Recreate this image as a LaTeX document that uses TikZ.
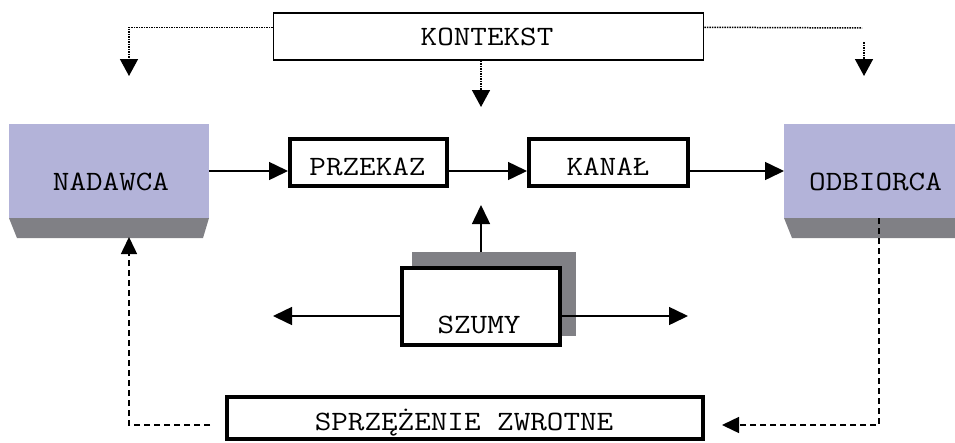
\documentclass[tikz,border=0pt]{standalone}
\usepackage{fontspec}
\newfontfamily\courlike[FakeStretch=1.15]{Latin Modern Mono}
\usetikzlibrary{arrows.meta}
\definecolor{lav}{RGB}{179,179,217}
\definecolor{shad}{RGB}{128,128,133}
\begin{document}
\begin{tikzpicture}[x=1pt,y=-1pt,
  txt/.style={font=\courlike\fontsize{28}{30}\selectfont, anchor=base, inner sep=0pt},
  thinbox/.style={draw, line width=1.5pt, fill=white, inner sep=0pt},
  thickbox/.style={draw, line width=4pt, fill=white, inner sep=0pt},
  party/.style={fill=lav, inner sep=0pt, outer sep=0pt},
  conn/.style={line width=1.5pt, -{Triangle[length=19pt,width=18pt]}},
  dotline/.style={line width=1.5pt, dash pattern=on 1.5pt off 1pt},
  dotconn/.style={dotline, -{Triangle[length=17pt,width=18pt]}},
  fbconn/.style={line width=1.5pt, dash pattern=on 6pt off 4pt, -{Triangle[length=17pt,width=16pt]}}
]
\useasboundingbox (0,0) rectangle (955,442);
\fill[white] (0,0) rectangle (955,442);

% parties
\node[party, minimum width=200pt, minimum height=94pt] (nadawca) at (109,171) {};
\node[party, minimum width=171pt, minimum height=94pt] (odbiorca) at (869.5,171) {};
\fill[shad] (nadawca.south west) -- (nadawca.south east) -- ([xshift=-6pt,yshift=-20pt]nadawca.south east) -- ([xshift=8pt,yshift=-20pt]nadawca.south west) -- cycle;
\fill[shad] (odbiorca.south west) -- (odbiorca.south east) -- ([yshift=-20pt]odbiorca.south east) -- ([xshift=8pt,yshift=-20pt]odbiorca.south west) -- cycle;
\node[txt] (tnad) at (111,190) {NADAWCA};
\node[txt] (todb) at (875.5,190) {ODBIORCA};

% context
\node[thinbox, minimum width=430pt, minimum height=47pt] (kontekst) at (488.5,36.5) {};
\node[txt] (tkon) at (487,45) {KONTEKST};

% message and channel
\node[thickbox, minimum width=157pt, minimum height=47pt] (przekaz) at (368.5,162.5) {};
\node[txt] (tprz) at (367.5,175) {PRZEKAZ};
\node[thickbox, minimum width=159pt, minimum height=47pt] (kanal) at (608.5,162.5) {};
\node[txt] (tkan) at (608,175) {KANAŁ};

% noise
\fill[shad] (412,252) rectangle (576,336);
\node[thickbox, minimum width=158pt, minimum height=77pt] (szumy) at (481,306.5) {};
\node[txt] (tszu) at (479,333) {SZUMY};

% feedback
\node[thickbox, minimum width=476pt, minimum height=42pt] (sprz) at (465,418) {};
\node[txt] (tspr) at (464,430) {SPRZĘŻENIE ZWROTNE};

% free ends
\coordinate (kc) at (481,107);
\coordinate (kl) at (129,76);
\coordinate (kr1) at (862,28);
\coordinate (kr2) at (864,42);
\coordinate (kr) at (864,76);
\coordinate (su) at (481,205);
\coordinate (nl) at (273,316);
\coordinate (nr) at (688,316);
\coordinate (fr) at (722,425);
\coordinate (fl) at (210,425);
\coordinate (fe) at (129,237);

% main flow
\draw[conn] (nadawca.east) -- (przekaz.west |- nadawca.east);
\draw[conn] (przekaz.east |- nadawca.east) -- (kanal.west |- nadawca.east);
\draw[conn] (kanal.east |- nadawca.east) -- (odbiorca.west);

% context arrows
\draw[dotconn] (kc |- kontekst.south) -- (kc);
\draw[dotconn] ([yshift=-15pt]kontekst.north west) -| (kl);
\draw[dotline] ([yshift=-15pt]kontekst.north east) -- (kr1);
\draw[dotconn] (kr2) -- (kr);

% noise arrows
\draw[conn] ([yshift=14pt]szumy.north) -- (su);
\draw[conn] ([yshift=-9.5pt]szumy.west) -- (nl);
\draw[conn] ([yshift=-9.5pt]szumy.east) -- (nr);

% feedback arrows
\draw[fbconn] ([xshift=9.5pt]odbiorca.south) |- (fr);
\draw[fbconn] (fl) -| (fe);
\end{tikzpicture}
\end{document}
